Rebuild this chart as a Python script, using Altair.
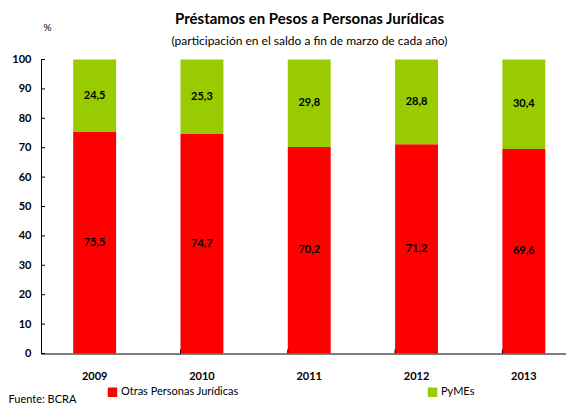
import altair as alt
import pandas as pd

years = ["2009", "2010", "2011", "2012", "2013"]
series = ["Otras Personas Jurídicas", "PyMEs"]
otras = [75.5, 74.7, 70.2, 71.2, 69.6]
pymes = [24.5, 25.3, 29.8, 28.8, 30.4]
colors = ["#FF0000", "#99CC00"]
y_ticks = [0, 10, 20, 30, 40, 50, 60, 70, 80, 90, 100]

rows = []
for i, y in enumerate(years):
    start = 0.0
    for s, vals in zip(series, [otras, pymes]):
        v = vals[i]
        rows.append({
            "year": y, "serie": s, "value": v,
            "start": start, "end": start + v, "mid": start + v / 2,
            "label": f"{v:.1f}".replace(".", ","),
        })
        start += v
df = pd.DataFrame(rows)
tick_df = pd.DataFrame({"t": y_ticks})
xtick_df = pd.DataFrame({"year": years[1:]})

FONT = "Lato"
W, H = 525, 294
xscale = alt.Scale(domain=years, range=[0, 536.5], paddingInner=0.6, paddingOuter=0.3)
yscale = alt.Scale(domain=[0, 100], nice=False)

xaxis = alt.Axis(
    title="Fuente: BCRA", titleAnchor="start", titleAlign="left", titleX=-33, titleY=46,
    titleBaseline="middle",
    titleFontWeight="normal", titleFontSize=11, titleFont=FONT, titleColor="#000",
    labelAngle=0, labelFontWeight="bold", labelFontSize=11, labelFont=FONT,
    labelColor="#000", labelPadding=17, ticks=False, domainColor="#000", grid=False,
)
yaxis = alt.Axis(
    title="%", titleAngle=0, titleX=6, titleY=-32, titleAlign="center",
    titleBaseline="middle",
    titleFontWeight="normal", titleFontSize=10, titleFont=FONT, titleColor="#000",
    values=y_ticks, labelFontWeight="bold", labelFontSize=11, labelFont=FONT,
    labelColor="#000", labelPadding=10, labelOverlap=False, ticks=False,
    domainColor="#000", grid=False,
)

bars = alt.Chart(df).mark_bar().encode(
    x=alt.X("year:O", scale=xscale, axis=xaxis),
    y=alt.Y("start:Q", scale=yscale, axis=yaxis),
    y2="end:Q",
    color=alt.Color(
        "serie:N",
        scale=alt.Scale(domain=series, range=colors),
        legend=alt.Legend(
            title=None, orient="none", direction="horizontal", legendX=66, legendY=327,
            symbolType="square", symbolSize=90, symbolStrokeWidth=0,
            labelFontSize=11, labelFont=FONT, labelColor="#000",
            columnPadding=188, symbolOffset=0, labelOffset=3,
        ),
    ),
)

texts = alt.Chart(df).mark_text(
    fontWeight="bold", fontSize=11, font=FONT, color="#000"
).encode(
    x=alt.X("year:O", scale=xscale, axis=xaxis),
    y=alt.Y("mid:Q", scale=yscale, axis=yaxis),
    text="label:N",
)

yticks = alt.Chart(tick_df).mark_rule(color="#000").encode(
    y=alt.Y("t:Q", scale=yscale, axis=yaxis), x=alt.value(0), x2=alt.value(4)
)
xticks = alt.Chart(xtick_df).mark_rule(color="#000").encode(
    x=alt.X("year:O", scale=xscale, bandPosition=0, axis=xaxis),
    y=alt.value(H), y2=alt.value(H - 4)
)

chart = alt.layer(bars, texts, yticks, xticks).properties(
    width=W, height=H,
    autosize="none",
    padding={"left": 33, "top": 51.5, "right": 0, "bottom": 51.5},
    title=alt.TitleParams(
        "Préstamos en Pesos a Personas Jurídicas",
        subtitle="(participación en el saldo a fin de marzo de cada año)",
        anchor="middle", frame="group", dx=6, offset=-24,
        font=FONT, fontSize=15, fontWeight="bold", color="#000",
        subtitleFont=FONT, subtitleFontSize=12, subtitleColor="#000", subtitlePadding=9,
    ),
).configure_view(stroke=None)

chart.save("out.html", embed_options={"renderer": "svg", "actions": False})
